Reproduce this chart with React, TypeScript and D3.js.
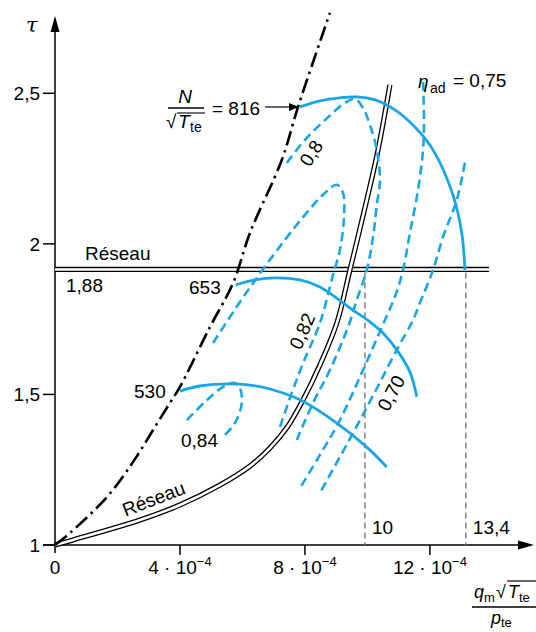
import React from "react";
import * as d3 from "d3";

const W = 536;
const H = 632;

// axis ticks
const xTicks = [0, 4, 8, 12];
const xTickLabels = ["0", "4 · 10", "8 · 10", "12 · 10"];
const yTicks = [1, 1.5, 2, 2.5];
const yTickLabels = ["1", "1,5", "2", "2,5"];

// surge (pompage) line, dash-dot
const surgeX = [0, 0.48, 1.66, 2.5, 3.14, 3.68, 4.0, 4.96, 5.7, 6.24, 7.26, 7.78, 8.8];
const surgeY = [1, 1.04, 1.159, 1.276, 1.382, 1.472, 1.525, 1.724, 1.87, 2.036, 2.279, 2.455, 2.767];

// network characteristic (Réseau), curved
const reseauX = [0, 0.58, 2.72, 4.0, 5.28, 6.24, 6.88, 7.42, 7.94, 8.48, 9.02, 9.44, 9.98, 10.34, 10.72];
const reseauY = [1, 1.017, 1.083, 1.133, 1.199, 1.262, 1.322, 1.389, 1.482, 1.598, 1.737, 1.913, 2.146, 2.312, 2.528];

// horizontal Réseau
const reseauFlatTau = 1.915;
const reseauFlatX = [0, 13.89];

// speed lines N/sqrt(Tte)
const n816X = [7.84, 8.48, 9.12, 9.66, 10.24, 10.88, 11.52, 12.1, 12.74, 13.02, 13.12];
const n816Y = [2.455, 2.475, 2.485, 2.488, 2.478, 2.445, 2.388, 2.312, 2.162, 2.036, 1.913];
const n653X = [5.79, 6.4, 7.04, 7.84, 8.48, 9.54, 10.08, 10.5, 10.94, 11.36, 11.58];
const n653Y = [1.864, 1.88, 1.887, 1.88, 1.857, 1.78, 1.741, 1.704, 1.648, 1.575, 1.492];
const n530X = [4.0, 4.64, 5.6, 6.24, 6.88, 7.84, 9.02, 9.98, 10.62];
const n530Y = [1.511, 1.528, 1.535, 1.531, 1.518, 1.482, 1.405, 1.325, 1.259];

// efficiency contours (eta_ad)
const e084X = [4.22, 4.8, 5.38, 5.76, 5.92, 5.98, 5.76, 5.38];
const e084Y = [1.415, 1.475, 1.525, 1.538, 1.521, 1.472, 1.405, 1.359];
const e082X = [5.06, 5.92, 6.78, 7.94, 8.64, 9.02, 9.22, 9.25, 9.12, 8.9, 8.48, 7.94, 7.58, 7.2];
const e082Y = [1.671, 1.807, 1.933, 2.089, 2.169, 2.196, 2.169, 2.089, 1.98, 1.897, 1.737, 1.604, 1.505, 1.392];
const e080X = [7.42, 8.0, 8.64, 9.28, 9.6, 9.86, 10.08, 10.3, 10.4, 10.3, 10.18, 9.98, 9.66, 9.38, 8.8, 8.26, 7.74];
const e080Y = [2.269, 2.345, 2.411, 2.468, 2.481, 2.451, 2.395, 2.312, 2.212, 2.129, 2.023, 1.913, 1.814, 1.724, 1.581, 1.472, 1.349];
const e075X = [11.78, 11.81, 11.78, 11.62, 11.36, 11.14, 10.88, 10.56, 9.86, 9.12, 8.48, 7.84];
const e075Y = [2.538, 2.412, 2.312, 2.179, 2.036, 1.913, 1.824, 1.747, 1.581, 1.415, 1.299, 1.189];
const e070X = [13.12, 12.86, 12.42, 12.1, 11.68, 11.46, 10.94, 10.24, 9.54, 8.48];
const e070Y = [2.269, 2.146, 2.023, 1.913, 1.804, 1.747, 1.648, 1.508, 1.372, 1.173];

// operating points on the horizontal Réseau (x drawn where the sketch puts them)
const opX = [9.92, 13.15];
const opLabels = ["10", "13,4"];

const BLUE = "#1aa5e6";
const FONT = "'Liberation Sans', Arial, Helvetica, sans-serif";

const x = d3.scaleLinear().domain([0, 15.3]).range([55, 533]);
const y = d3.scaleLinear().domain([1, 2.75]).range([545, 18]);

const zip = (xs: number[], ys: number[]) => xs.map((v, i) => [v, ys[i]] as [number, number]);
const lineGen = d3
  .line<[number, number]>()
  .x((d) => x(d[0]))
  .y((d) => y(d[1]))
  .curve(d3.curveCatmullRom.alpha(0.5));

function DoubleLine({ d }: { d: string }) {
  return (
    <g fill="none">
      <path d={d} stroke="#000" strokeWidth={5.2} />
      <path d={d} stroke="#fff" strokeWidth={2.6} />
    </g>
  );
}

export default function App() {
  const surge = lineGen(zip(surgeX, surgeY)) || "";
  const reseau = lineGen(zip(reseauX, reseauY)) || "";
  const flat = `M${x(reseauFlatX[0])},${y(reseauFlatTau)}L${x(reseauFlatX[1])},${y(reseauFlatTau)}`;
  const speeds = [zip(n816X, n816Y), zip(n653X, n653Y), zip(n530X, n530Y)];
  const effs = [zip(e084X, e084Y), zip(e082X, e082Y), zip(e080X, e080Y), zip(e075X, e075Y), zip(e070X, e070Y)];

  const x0 = x(0);
  const yb = y(1);
  const yTop = y(2.75);
  const xEnd = x(15.3);

  return (
    <svg
      width={W}
      height={H}
      viewBox={`0 0 ${W} ${H}`}
      style={{ position: "absolute", left: 0, top: 0, display: "block", background: "#fff" }}
      fontFamily={FONT}
    >
      <rect width={W} height={H} fill="#fff" />

      {/* axes */}
      <line x1={x0} y1={yb + 8} x2={x0} y2={yTop + 12} stroke="#000" strokeWidth={1.5} />
      <path d={`M${x0},${yTop - 2}L${x0 - 4.5},${yTop + 14}L${x0 + 4.5},${yTop + 14}Z`} fill="#000" />
      <line x1={x0 - 12} y1={yb} x2={xEnd - 12} y2={yb} stroke="#000" strokeWidth={1.5} />
      <path d={`M${xEnd + 1},${yb}L${xEnd - 15},${yb - 4.5}L${xEnd - 15},${yb + 4.5}Z`} fill="#000" />

      {yTicks.map((t, i) => (
        <g key={"yt" + i}>
          <line x1={x0 - 12} x2={x0} y1={y(t)} y2={y(t)} stroke="#000" strokeWidth={1.5} />
          <text x={x0 - 15} y={y(t)} dy="0.36em" textAnchor="end" fontSize={19}>
            {yTickLabels[i]}
          </text>
        </g>
      ))}
      {xTicks.map((t, i) => (
        <g key={"xt" + i}>
          {t !== 0 && <line x1={x(t)} x2={x(t)} y1={yb} y2={yb + 10} stroke="#000" strokeWidth={1.5} />}
          <text x={x(t)} y={yb + 29} textAnchor="middle" fontSize={19}>
            {xTickLabels[i]}
            {t !== 0 && (
              <tspan fontSize={13} dy={-8}>
                −4
              </tspan>
            )}
          </text>
        </g>
      ))}

      {/* tau label */}
      <text x={26} y={32} fontSize={21} fontStyle="italic" fontFamily="'DejaVu Serif', 'Liberation Serif', serif">
        τ
      </text>

      {/* x-axis quantity label (fraction) */}
      <g fontSize={18}>
        <text x={474} y={598} fontStyle="italic">q</text>
        <text x={484} y={602} fontSize={13}>m</text>
        <text x={496} y={598}>√</text>
        <line x1={507} x2={536} y1={581} y2={581} stroke="#000" strokeWidth={1.2} />
        <text x={508} y={598} fontStyle="italic">T</text>
        <text x={519} y={602} fontSize={13}>te</text>
        <line x1={472} x2={536} y1={607} y2={607} stroke="#000" strokeWidth={1.4} />
        <text x={491} y={624} fontStyle="italic">p</text>
        <text x={501} y={627} fontSize={13}>te</text>
      </g>

      {/* vertical dashed operating-point lines */}
      {opX.map((v, i) => (
        <g key={"op" + i}>
          <line x1={x(v)} x2={x(v)} y1={y(reseauFlatTau) + 3} y2={yb} stroke="#777" strokeWidth={1.4} strokeDasharray="6 4" />
          <text x={x(v) + 7} y={yb - 11} fontSize={19}>
            {opLabels[i]}
          </text>
        </g>
      ))}

      {/* network lines */}
      <DoubleLine d={flat} />
      <DoubleLine d={reseau} />

      {/* efficiency contours */}
      {effs.map((p, i) => (
        <path key={"e" + i} d={lineGen(p) || ""} fill="none" stroke={BLUE} strokeWidth={2.6} strokeDasharray="9 5" />
      ))}

      {/* speed lines */}
      {speeds.map((p, i) => (
        <path key={"s" + i} d={lineGen(p) || ""} fill="none" stroke={BLUE} strokeWidth={2.8} />
      ))}

      {/* surge line */}
      <path d={surge} fill="none" stroke="#000" strokeWidth={2.6} strokeDasharray="15 5 2.5 5" />

      {/* text labels */}
      <g fontSize={19}>
        <text x={85} y={260}>Réseau</text>
        <text x={66} y={292}>1,88</text>
        <text x={189} y={294}>653</text>
        <text x={134} y={398}>530</text>
        <text x={181} y={447}>0,84</text>
        <text x={0} y={0} textAnchor="middle" transform="translate(156,505) rotate(-21)">Réseau</text>
        <text x={0} y={0} textAnchor="middle" dy="0.36em" transform="translate(311,153) rotate(-58)">0,8</text>
        <text x={0} y={0} textAnchor="middle" dy="0.36em" transform="translate(302,331) rotate(-66)">0,82</text>
        <text x={0} y={0} textAnchor="middle" dy="0.36em" transform="translate(391,393) rotate(-62)">0,70</text>
      </g>

      {/* N / sqrt(Tte) = 816 */}
      <g fontSize={19}>
        <text x={185} y={103} textAnchor="middle" fontStyle="italic">N</text>
        <line x1={168} x2={204} y1={108} y2={108} stroke="#000" strokeWidth={1.3} />
        <text x={166} y={128}>√</text>
        <line x1={177} x2={205} y1={113} y2={113} stroke="#000" strokeWidth={1.1} />
        <text x={178} y={128} fontStyle="italic">T</text>
        <text x={190} y={132} fontSize={14}>te</text>
        <text x={212} y={115}>= 816</text>
        <line x1={265} x2={291} y1={107} y2={107} stroke="#000" strokeWidth={1.2} />
        <path d="M299,107L289,103L289,111Z" fill="#000" />
      </g>

      {/* eta_ad = 0,75 */}
      <g fontSize={19}>
        <text x={418} y={88} fontStyle="italic">η</text>
        <text x={430} y={93} fontSize={14}>ad</text>
        <text x={453} y={87}>= 0,75</text>
      </g>
    </svg>
  );
}
